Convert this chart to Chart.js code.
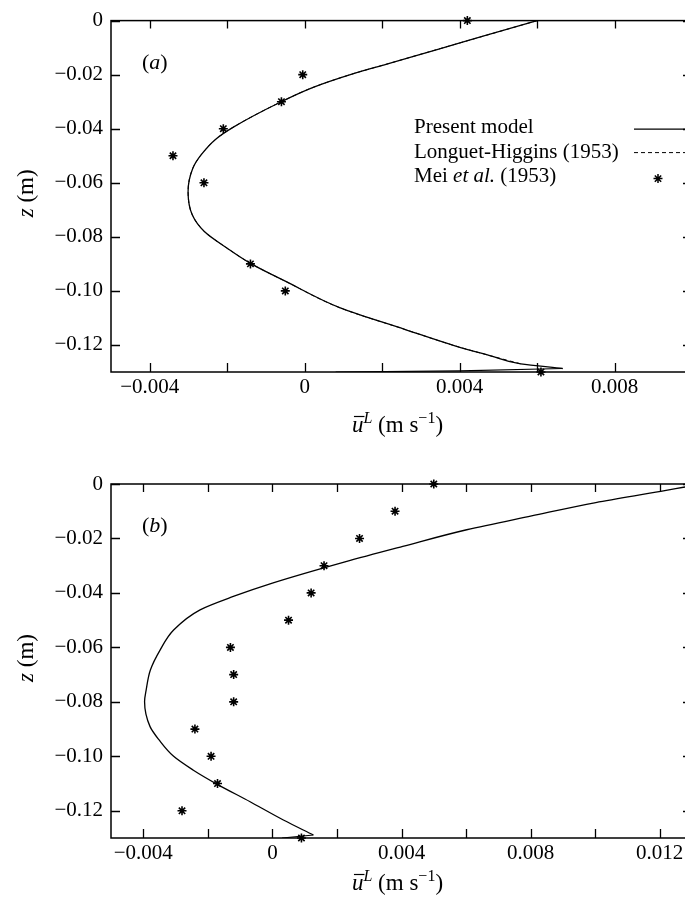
<!DOCTYPE html>
<html>
<head>
<meta charset="utf-8">
<script src="https://cdn.jsdelivr.net/npm/chart.js@4.4.1/dist/chart.umd.min.js"></script>
<style>
	html, body { margin: 0; padding: 0; background: #fff; overflow: hidden; width: 685px; height: 901px; }
	canvas { position: absolute; left: 0; }
</style>
</head>
<body>
<canvas id="chartA" width="700" height="440" style="top:0"></canvas>
<canvas id="chartB" width="700" height="461" style="top:440px"></canvas>
<script>
// (a) present model, u (m/s) against z (m)
const presentAU = [0.0060, 0.00465, 0.00344, 0.00212, 0.00122, 0.00022, -0.00063, -0.00184, -0.00228, -0.00268, -0.00289, -0.00301, -0.00290, -0.00259, -0.00200, -0.00140, -0.00050, 0.00092, 0.00258, 0.00390, 0.00480, 0.00558, 0.00666];
const presentAZ = [0, -0.0056, -0.0106, -0.0161, -0.0198, -0.0247, -0.0302, -0.0394, -0.0437, -0.0498, -0.0547, -0.0633, -0.0719, -0.0780, -0.0842, -0.0898, -0.0964, -0.1063, -0.1142, -0.1204, -0.1240, -0.1270, -0.1287];
// bottom boundary layer return of the present model
const presentABedU = [0.00666, 0.0040, 0.0008];
const presentABedZ = [-0.1287, -0.1296, -0.1300];
// (a) Longuet-Higgins (1953), indistinguishable from the present model
const longuetAU = [0.0060, 0.00465, 0.00344, 0.00212, 0.00122, 0.00022, -0.00063, -0.00184, -0.00228, -0.00268, -0.00289, -0.00301, -0.00290, -0.00259, -0.00200, -0.00140, -0.00050, 0.00092, 0.00258, 0.00390, 0.00480, 0.00558];
const longuetAZ = [0, -0.0056, -0.0106, -0.0161, -0.0198, -0.0247, -0.0302, -0.0394, -0.0437, -0.0498, -0.0547, -0.0633, -0.0719, -0.0780, -0.0842, -0.0898, -0.0964, -0.1063, -0.1142, -0.1204, -0.1240, -0.1270];
// (a) Mei et al.
const meiAU = [0.0042, -0.00005, -0.0006, -0.0021, -0.0034, -0.0026, -0.0014, -0.0005, 0.0061];
const meiAZ = [0, -0.02, -0.03, -0.04, -0.05, -0.06, -0.09, -0.10, -0.13];

// (b) present model
const presentBU = [0.0133, 0.01278, 0.01203, 0.01002, 0.00803, 0.00602, 0.00404, 0.00225, 0.0000, -0.00121, -0.00224, -0.00306, -0.00348, -0.00378, -0.00391, -0.00396, -0.00379, -0.00351, -0.00306, -0.00246, -0.00172, -0.00069, 0.00034, 0.00127];
const presentBZ = [0, -0.0011, -0.0027, -0.0068, -0.0117, -0.0168, -0.0229, -0.0286, -0.0364, -0.0413, -0.0462, -0.0536, -0.0610, -0.0683, -0.0756, -0.0799, -0.0891, -0.0940, -0.1000, -0.1050, -0.1102, -0.1167, -0.1234, -0.1289];
const presentBBedU = [0.00127, 0.0003];
const presentBBedZ = [-0.1289, -0.1300];
// (b) Mei et al.
const meiBU = [0.0050, 0.0038, 0.0027, 0.0016, 0.0012, 0.0005, -0.0013, -0.0012, -0.0012, -0.0024, -0.0019, -0.0017, -0.0028, 0.0009];
const meiBZ = [0, -0.01, -0.02, -0.03, -0.04, -0.05, -0.06, -0.07, -0.08, -0.09, -0.10, -0.11, -0.12, -0.13];

// ticks
const xTicksA = [-0.004, -0.002, 0, 0.002, 0.004, 0.006, 0.008];
const xTickLabelsA = ["\u22120.004", "", "0", "", "0.004", "", "0.008"];
const xTicksB = [-0.004, -0.002, 0, 0.002, 0.004, 0.006, 0.008, 0.010, 0.012];
const xTickLabelsB = ["\u22120.004", "", "0", "", "0.004", "", "0.008", "", "0.012"];
const yTicks = [0, -0.02, -0.04, -0.06, -0.08, -0.10, -0.12];
const yTickLabels = ["0", "\u22120.02", "\u22120.04", "\u22120.06", "\u22120.08", "\u22120.10", "\u22120.12"];

const serif = '"Liberation Serif", "Times New Roman", serif';
const toPts = (u, z) => u.map((v, i) => ({ x: v, y: z[i] }));

// runs of text with their own style, drawn one after another
function drawRuns(ctx, runs, x, y) {
	runs.forEach((r) => {
		ctx.font = (r.italic ? "italic " : "") + r.size + "px " + serif;
		ctx.fillText(r.t, x, y + (r.dy || 0));
		r.x = x;
		r.w = ctx.measureText(r.t).width;
		x += r.w;
	});
}
function runsWidth(ctx, runs) {
	let w = 0;
	runs.forEach((r) => {
		ctx.font = (r.italic ? "italic " : "") + r.size + "px " + serif;
		w += ctx.measureText(r.t).width;
	});
	return w;
}

// frame with inward ticks on all four sides
const frameTicks = {
	id: "frameTicks",
	afterDraw(chart) {
		const {
			ctx,
			chartArea: { left, right, top, bottom },
			scales: { x, y },
		} = chart;
		ctx.save();
		ctx.strokeStyle = "#000";
		ctx.lineWidth = 1.5;
		ctx.strokeRect(left, top, right - left, bottom - top);
		ctx.lineWidth = 1.3;
		ctx.beginPath();
		x.ticks.forEach((t) => {
			const px = Math.round(x.getPixelForValue(t.value)) + 0.5;
			ctx.moveTo(px, top);
			ctx.lineTo(px, top + 8);
			ctx.moveTo(px, bottom);
			ctx.lineTo(px, bottom - 9);
		});
		y.ticks.forEach((t) => {
			const py = Math.round(y.getPixelForValue(t.value)) + 0.5;
			ctx.moveTo(left, py);
			ctx.lineTo(left + 9, py);
			ctx.moveTo(right, py);
			ctx.lineTo(right - 9, py);
		});
		ctx.stroke();
		ctx.restore();
	},
};

// axis titles, panel label and legend
const annot = {
	id: "annot",
	afterDraw(chart, args, opts) {
		const {
			ctx,
			chartArea: { left, right, top, bottom },
		} = chart;
		ctx.save();
		ctx.fillStyle = "#000";
		ctx.strokeStyle = "#000";
		ctx.textBaseline = "alphabetic";
		ctx.textAlign = "left";

		drawRuns(ctx, [
			{ t: "(", size: 22 },
			{ t: opts.panel, size: 22, italic: true },
			{ t: ")", size: 22 },
		], left + 31, top + 48);

		// x title: u-bar^L (m s^-1)
		const xt = [
			{ t: "u", size: 23, italic: true },
			{ t: "L", size: 16, italic: true, dy: -9 },
			{ t: " (m s", size: 23 },
			{ t: "\u22121", size: 16, dy: -9 },
			{ t: ")", size: 23 },
		];
		const w = runsWidth(ctx, xt);
		drawRuns(ctx, xt, (left + right) / 2 - w / 2 - 4, bottom + opts.titleGap);
		ctx.lineWidth = 1.2;
		ctx.beginPath();
		ctx.moveTo(xt[0].x + 2, bottom + opts.titleGap - 15.5);
		ctx.lineTo(xt[0].x + xt[0].w + 1, bottom + opts.titleGap - 15.5);
		ctx.stroke();

		// y title: z (m), rotated
		const yt = [
			{ t: "z", size: 23, italic: true },
			{ t: " (m)", size: 23 },
		];
		const yw = runsWidth(ctx, yt);
		ctx.save();
		ctx.translate(33, (top + bottom) / 2 - 3);
		ctx.rotate(-Math.PI / 2);
		drawRuns(ctx, yt, -yw / 2, 0);
		ctx.restore();

		if (opts.legend) {
			const tx = left + 303;
			const rows = [top + 112, top + 137, top + 161];
			drawRuns(ctx, [{ t: "Present model", size: 21 }], tx, rows[0]);
			drawRuns(ctx, [{ t: "Longuet-Higgins (1953)", size: 21 }], tx, rows[1]);
			drawRuns(ctx, [
				{ t: "Mei ", size: 21 },
				{ t: "et al.", size: 21, italic: true },
				{ t: " (1953)", size: 21 },
			], tx, rows[2]);
			const sx = left + 523;
			ctx.lineWidth = 1.3;
			ctx.beginPath();
			ctx.moveTo(sx, rows[0] - 3.5);
			ctx.lineTo(right, rows[0] - 3.5);
			ctx.stroke();
			ctx.lineWidth = 1;
			ctx.setLineDash([4, 3]);
			ctx.beginPath();
			ctx.moveTo(sx, rows[1] - 5);
			ctx.lineTo(right, rows[1] - 5);
			ctx.stroke();
			ctx.setLineDash([]);
			ctx.lineWidth = 1.5;
			Chart.helpers.drawPoint(ctx, { pointStyle: "star", radius: 4.5, rotation: 0, borderWidth: 1.5 }, sx + 24, rows[2] - 3);
		}
		ctx.restore();
	},
};

function makeConfig(datasets, xMax, xTicks, xLabels, padTop, xAxisH, panel, legend, titleGap) {
	return {
		type: "scatter",
		data: { datasets: datasets },
		options: {
			responsive: false,
			animation: false,
			events: [],
			layout: { padding: { top: padTop, left: 0, right: 8, bottom: 0 } },
			plugins: {
				legend: { display: false },
				tooltip: { enabled: false },
				annot: { panel: panel, legend: legend, titleGap: titleGap },
			},
			scales: {
				x: {
					type: "linear",
					min: -0.005,
					max: xMax,
					grid: { display: false, drawTicks: false },
					border: { display: false },
					afterBuildTicks(scale) {
						scale.ticks = xTicks.map((v) => ({ value: v }));
					},
					ticks: {
						autoSkip: false,
						maxRotation: 0,
						padding: 3,
						color: "#000",
						font: { family: serif, size: 21 },
						callback: (v, i) => xLabels[i],
					},
					afterFit(scale) {
						scale.height = xAxisH;
					},
				},
				y: {
					type: "linear",
					min: -0.13,
					max: 0,
					grid: { display: false, drawTicks: false },
					border: { display: false },
					afterBuildTicks(scale) {
						scale.ticks = yTicks.map((v) => ({ value: v }));
					},
					ticks: {
						autoSkip: false,
						padding: 8,
						color: "#000",
						font: { family: serif, size: 21 },
						callback: (v, i) => yTickLabels[i],
					},
					afterFit(scale) {
						scale.width = 111;
					},
				},
			},
		},
		plugins: [frameTicks, annot],
	};
}

const starSet = (u, z) => ({
	data: toPts(u, z),
	showLine: false,
	pointStyle: "star",
	pointRadius: 4.5,
	pointBorderWidth: 1.6,
	pointBorderColor: "#000",
	pointBackgroundColor: "#000",
	clip: false,
});
const lineSet = (u, z, smooth, dash, width) => ({
	data: toPts(u, z),
	showLine: true,
	indexAxis: "y",
	borderColor: "#000",
	borderWidth: width,
	borderDash: dash,
	pointRadius: 0,
	cubicInterpolationMode: smooth ? "monotone" : "default",
	tension: 0,
	fill: false,
});

const datasetsA = [
	starSet(meiAU, meiAZ),
	lineSet(presentAU, presentAZ, true, [], 1.3),
	lineSet(presentABedU, presentABedZ, false, [], 1.2),
	lineSet(longuetAU, longuetAZ, true, [4, 3], 1),
];
const datasetsB = [
	starSet(meiBU, meiBZ),
	lineSet(presentBU, presentBZ, true, [], 1.3),
	lineSet(presentBBedU, presentBBedZ, false, [], 1.2),
];

new Chart(document.getElementById("chartA"), makeConfig(datasetsA, 0.01, xTicksA, xTickLabelsA, 18, 68, "a", true, 60));
new Chart(document.getElementById("chartB"), makeConfig(datasetsB, 0.013, xTicksB, xTickLabelsB, 44, 63, "b", false, 52));
</script>
</body>
</html>
